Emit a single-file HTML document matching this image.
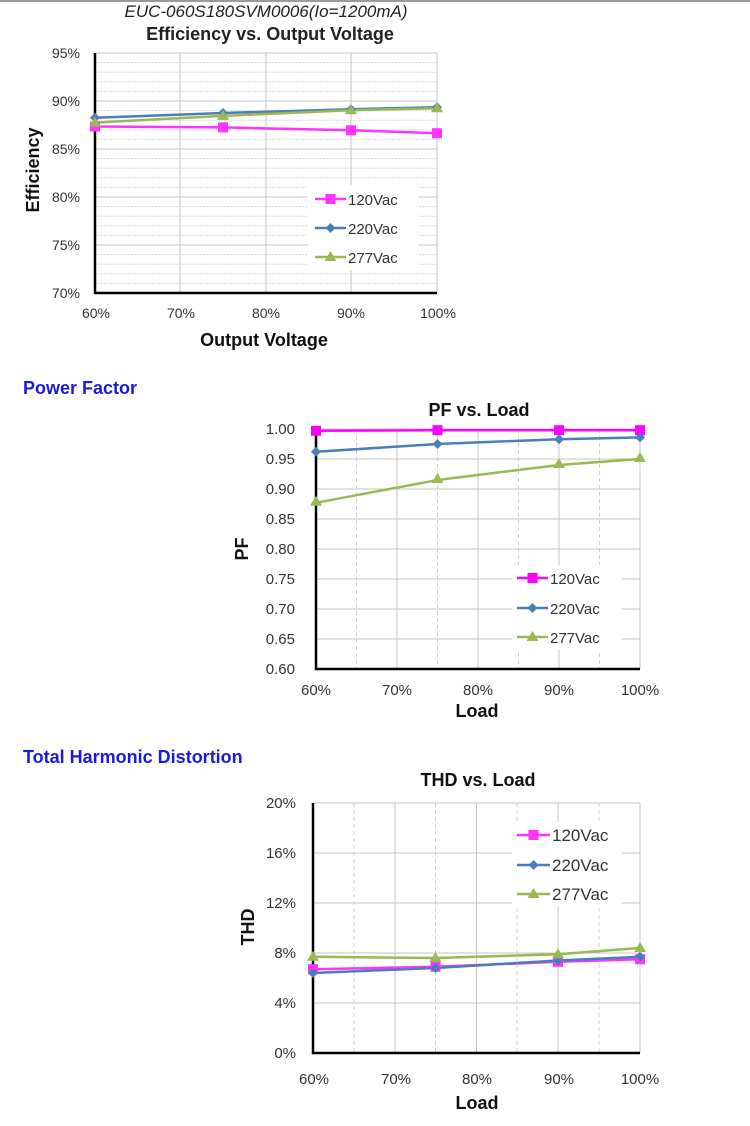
<!DOCTYPE html>
<html><head><meta charset="utf-8"><style>
html,body{margin:0;padding:0;background:#fff;}
svg{display:block;font-family:"Liberation Sans",Arial,sans-serif;}
</style></head><body>
<svg width="750" height="1126" viewBox="0 0 750 1126" xmlns="http://www.w3.org/2000/svg">
<rect x="0" y="0" width="750" height="2" fill="#9a9a9a"/>

<!-- Chart 1 -->
<text x="266" y="17" font-size="17" font-style="italic" text-anchor="middle" fill="#222">EUC-060S180SVM0006(Io=1200mA)</text>
<text x="270" y="40" font-size="18" font-weight="bold" text-anchor="middle" fill="#222">Efficiency vs. Output Voltage</text>
<g stroke="#d8d8d8" stroke-width="1" stroke-dasharray="2,1">
<line x1="95" y1="62.6" x2="437" y2="62.6"/><line x1="95" y1="72.2" x2="437" y2="72.2"/><line x1="95" y1="81.8" x2="437" y2="81.8"/><line x1="95" y1="91.4" x2="437" y2="91.4"/>
<line x1="95" y1="110.6" x2="437" y2="110.6"/><line x1="95" y1="120.2" x2="437" y2="120.2"/><line x1="95" y1="129.8" x2="437" y2="129.8"/><line x1="95" y1="139.4" x2="437" y2="139.4"/>
<line x1="95" y1="158.6" x2="437" y2="158.6"/><line x1="95" y1="168.2" x2="437" y2="168.2"/><line x1="95" y1="177.8" x2="437" y2="177.8"/><line x1="95" y1="187.4" x2="437" y2="187.4"/>
<line x1="95" y1="206.6" x2="437" y2="206.6"/><line x1="95" y1="216.2" x2="437" y2="216.2"/><line x1="95" y1="225.8" x2="437" y2="225.8"/><line x1="95" y1="235.4" x2="437" y2="235.4"/>
<line x1="95" y1="254.6" x2="437" y2="254.6"/><line x1="95" y1="264.2" x2="437" y2="264.2"/><line x1="95" y1="273.8" x2="437" y2="273.8"/><line x1="95" y1="283.4" x2="437" y2="283.4"/>
</g>
<g stroke="#c4c4c4" stroke-width="1">
<line x1="95" y1="101" x2="437" y2="101"/><line x1="95" y1="149" x2="437" y2="149"/><line x1="95" y1="197" x2="437" y2="197"/><line x1="95" y1="245" x2="437" y2="245"/>
<line x1="180" y1="53" x2="180" y2="293"/><line x1="266" y1="53" x2="266" y2="293"/><line x1="351" y1="53" x2="351" y2="293"/>
<line x1="95" y1="53" x2="437" y2="53"/><line x1="437" y1="53" x2="437" y2="293"/>
</g>
<path d="M95 53V293H437" fill="none" stroke="#000" stroke-width="2.5"/>
<g font-size="14" fill="#333" text-anchor="end">
<text x="80" y="58">95%</text><text x="80" y="106">90%</text><text x="80" y="154">85%</text><text x="80" y="202">80%</text><text x="80" y="250">75%</text><text x="80" y="298">70%</text>
</g>
<g font-size="14" fill="#333" text-anchor="middle">
<text x="96" y="318">60%</text><text x="181" y="318">70%</text><text x="266" y="318">80%</text><text x="351" y="318">90%</text><text x="438" y="318">100%</text>
</g>
<text x="264" y="346" font-size="18" font-weight="bold" text-anchor="middle" fill="#111">Output Voltage</text>
<text transform="translate(39,170) rotate(-90)" font-size="18" font-weight="bold" text-anchor="middle" fill="#111">Efficiency</text>
<rect x="308" y="185" width="110" height="85" fill="#fff"/>
<polyline points="95,126.5 223,127.4 351,130.3 437,133.2" fill="none" stroke="#ff33ff" stroke-width="2.5"/>
<polyline points="95,117.8 223,113 351,109.2 437,107.2" fill="none" stroke="#4a7ebb" stroke-width="2.5"/>
<polyline points="95,122.6 223,115.9 351,110.2 437,108.2" fill="none" stroke="#98b954" stroke-width="2.5"/>
<g fill="#ff33ff"><rect x="90" y="121.5" width="10" height="10"/><rect x="218" y="122.4" width="10" height="10"/><rect x="346" y="125.3" width="10" height="10"/><rect x="432" y="128.2" width="10" height="10"/></g>
<g fill="#4a7ebb"><path d="M95 112.8l5 5-5 5-5-5z"/><path d="M223 108l5 5-5 5-5-5z"/><path d="M351 104.2l5 5-5 5-5-5z"/><path d="M437 102.2l5 5-5 5-5-5z"/></g>
<g fill="#98b954"><path d="M95 116.6l6 10h-12z"/><path d="M223 109.9l6 10h-12z"/><path d="M351 104.2l6 10h-12z"/><path d="M437 102.2l6 10h-12z"/></g>
<line x1="315" y1="199" x2="346" y2="199" stroke="#ff33ff" stroke-width="2.5"/><rect x="325.5" y="194" width="10" height="10" fill="#ff33ff"/>
<line x1="315" y1="228" x2="346" y2="228" stroke="#4a7ebb" stroke-width="2.5"/><path d="M330.5 223l5 5-5 5-5-5z" fill="#4a7ebb"/>
<line x1="315" y1="257" x2="346" y2="257" stroke="#98b954" stroke-width="2.5"/><path d="M330.5 251l6 10h-12z" fill="#98b954"/>
<g font-size="15" fill="#333"><text x="348" y="205">120Vac</text><text x="348" y="234">220Vac</text><text x="348" y="263">277Vac</text></g>

<!-- headings -->
<text x="23" y="394" font-size="18" font-weight="bold" fill="#1a1adf">Power Factor</text>
<text x="23" y="763" font-size="18" font-weight="bold" fill="#1a1adf">Total Harmonic Distortion</text>

<!-- Chart 2 -->
<text x="479" y="416" font-size="18" font-weight="bold" text-anchor="middle" fill="#111">PF vs. Load</text>
<g stroke="#d0d0d0" stroke-width="1" stroke-dasharray="4,3">
<line x1="356.5" y1="429" x2="356.5" y2="669"/><line x1="437.5" y1="429" x2="437.5" y2="669"/><line x1="518.5" y1="429" x2="518.5" y2="669"/><line x1="599.5" y1="429" x2="599.5" y2="669"/>
</g>
<g stroke="#c4c4c4" stroke-width="1">
<line x1="316" y1="459" x2="640" y2="459"/><line x1="316" y1="489" x2="640" y2="489"/><line x1="316" y1="519" x2="640" y2="519"/><line x1="316" y1="549" x2="640" y2="549"/><line x1="316" y1="579" x2="640" y2="579"/><line x1="316" y1="609" x2="640" y2="609"/><line x1="316" y1="639" x2="640" y2="639"/>
<line x1="397" y1="429" x2="397" y2="669"/><line x1="478" y1="429" x2="478" y2="669"/><line x1="559" y1="429" x2="559" y2="669"/>
<line x1="316" y1="429" x2="640" y2="429"/><line x1="640" y1="429" x2="640" y2="669"/>
</g>
<path d="M316 429V669H640" fill="none" stroke="#000" stroke-width="2.5"/>
<g font-size="15" fill="#333" text-anchor="end">
<text x="295" y="434">1.00</text><text x="295" y="464">0.95</text><text x="295" y="494">0.90</text><text x="295" y="524">0.85</text><text x="295" y="554">0.80</text><text x="295" y="584">0.75</text><text x="295" y="614">0.70</text><text x="295" y="644">0.65</text><text x="295" y="674">0.60</text>
</g>
<g font-size="15" fill="#333" text-anchor="middle">
<text x="316" y="695">60%</text><text x="397" y="695">70%</text><text x="478" y="695">80%</text><text x="559" y="695">90%</text><text x="640" y="695">100%</text>
</g>
<text x="477" y="717" font-size="18" font-weight="bold" text-anchor="middle" fill="#111">Load</text>
<text transform="translate(248,549) rotate(-90)" font-size="18" font-weight="bold" text-anchor="middle" fill="#111">PF</text>
<rect x="512" y="565" width="110" height="85" fill="#fff"/>
<polyline points="316,430.8 437.5,430.2 559,430.2 640,430.2" fill="none" stroke="#ff00ff" stroke-width="2.5"/>
<polyline points="316,451.8 437.5,444 559,439.2 640,437.4" fill="none" stroke="#4a7ebb" stroke-width="2.5"/>
<polyline points="316,502.8 437.5,480 559,465 640,459" fill="none" stroke="#98b954" stroke-width="2.5"/>
<g fill="#ff00ff"><rect x="311" y="425.8" width="10" height="10"/><rect x="432.5" y="425.2" width="10" height="10"/><rect x="554" y="425.2" width="10" height="10"/><rect x="635" y="425.2" width="10" height="10"/></g>
<g fill="#4a7ebb"><path d="M316 446.8l5 5-5 5-5-5z"/><path d="M437.5 439l5 5-5 5-5-5z"/><path d="M559 434.2l5 5-5 5-5-5z"/><path d="M640 432.4l5 5-5 5-5-5z"/></g>
<g fill="#98b954"><path d="M316 495.8l6 10h-12z"/><path d="M437.5 473l6 10h-12z"/><path d="M559 458l6 10h-12z"/><path d="M640 452l6 10h-12z"/></g>
<line x1="517" y1="578" x2="548" y2="578" stroke="#ff00ff" stroke-width="2.5"/><rect x="527.5" y="573" width="10" height="10" fill="#ff00ff"/>
<line x1="517" y1="608" x2="548" y2="608" stroke="#4a7ebb" stroke-width="2.5"/><path d="M532.5 603l5 5-5 5-5-5z" fill="#4a7ebb"/>
<line x1="517" y1="637" x2="548" y2="637" stroke="#98b954" stroke-width="2.5"/><path d="M532.5 631l6 10h-12z" fill="#98b954"/>
<g font-size="15" fill="#333"><text x="550" y="584">120Vac</text><text x="550" y="614">220Vac</text><text x="550" y="643">277Vac</text></g>

<!-- Chart 3 -->
<text x="478" y="786" font-size="18" font-weight="bold" text-anchor="middle" fill="#111">THD vs. Load</text>
<g stroke="#d0d0d0" stroke-width="1" stroke-dasharray="4,3">
<line x1="354" y1="803" x2="354" y2="1053"/><line x1="435.5" y1="803" x2="435.5" y2="1053"/><line x1="517" y1="803" x2="517" y2="1053"/><line x1="599" y1="803" x2="599" y2="1053"/>
</g>
<g stroke="#c4c4c4" stroke-width="1">
<line x1="313" y1="853" x2="640" y2="853"/><line x1="313" y1="903" x2="640" y2="903"/><line x1="313" y1="953" x2="640" y2="953"/><line x1="313" y1="1003" x2="640" y2="1003"/>
<line x1="395" y1="803" x2="395" y2="1053"/><line x1="476.5" y1="803" x2="476.5" y2="1053"/><line x1="558" y1="803" x2="558" y2="1053"/>
<line x1="313" y1="803" x2="640" y2="803"/><line x1="640" y1="803" x2="640" y2="1053"/>
</g>
<path d="M313 803V1053H640" fill="none" stroke="#000" stroke-width="2.5"/>
<g font-size="15" fill="#333" text-anchor="end">
<text x="296" y="808">20%</text><text x="296" y="858">16%</text><text x="296" y="908">12%</text><text x="296" y="958">8%</text><text x="296" y="1008">4%</text><text x="296" y="1058">0%</text>
</g>
<g font-size="15" fill="#333" text-anchor="middle">
<text x="314" y="1084">60%</text><text x="396" y="1084">70%</text><text x="477" y="1084">80%</text><text x="559" y="1084">90%</text><text x="640" y="1084">100%</text>
</g>
<text x="477" y="1109" font-size="18" font-weight="bold" text-anchor="middle" fill="#111">Load</text>
<text transform="translate(254,927) rotate(-90)" font-size="18" font-weight="bold" text-anchor="middle" fill="#111">THD</text>
<rect x="512" y="822" width="110" height="85" fill="#fff"/>
<polyline points="313,969.2 435.5,966.8 558,961.8 640,959.2" fill="none" stroke="#ff33ff" stroke-width="2.5"/>
<polyline points="313,973 435.5,968 558,960.5 640,956.8" fill="none" stroke="#4a7ebb" stroke-width="2.5"/>
<polyline points="313,956.8 435.5,958 558,954.2 640,948" fill="none" stroke="#98b954" stroke-width="2.5"/>
<g fill="#ff33ff"><rect x="308" y="964.2" width="10" height="10"/><rect x="430.5" y="961.8" width="10" height="10"/><rect x="553" y="956.8" width="10" height="10"/><rect x="635" y="954.2" width="10" height="10"/></g>
<g fill="#4a7ebb"><path d="M313 968l5 5-5 5-5-5z"/><path d="M435.5 963l5 5-5 5-5-5z"/><path d="M558 955.5l5 5-5 5-5-5z"/><path d="M640 951.8l5 5-5 5-5-5z"/></g>
<g fill="#98b954"><path d="M313 950.8l6 10h-12z"/><path d="M435.5 952l6 10h-12z"/><path d="M558 948.2l6 10h-12z"/><path d="M640 942l6 10h-12z"/></g>
<line x1="517" y1="835" x2="550" y2="835" stroke="#ff33ff" stroke-width="2.5"/><rect x="528.5" y="830" width="10" height="10" fill="#ff33ff"/>
<line x1="517" y1="865" x2="550" y2="865" stroke="#4a7ebb" stroke-width="2.5"/><path d="M533.5 860l5 5-5 5-5-5z" fill="#4a7ebb"/>
<line x1="517" y1="894" x2="550" y2="894" stroke="#98b954" stroke-width="2.5"/><path d="M533.5 888l6 10h-12z" fill="#98b954"/>
<g font-size="17" fill="#333"><text x="552" y="841">120Vac</text><text x="552" y="871">220Vac</text><text x="552" y="900">277Vac</text></g>
</svg>
</body></html>
